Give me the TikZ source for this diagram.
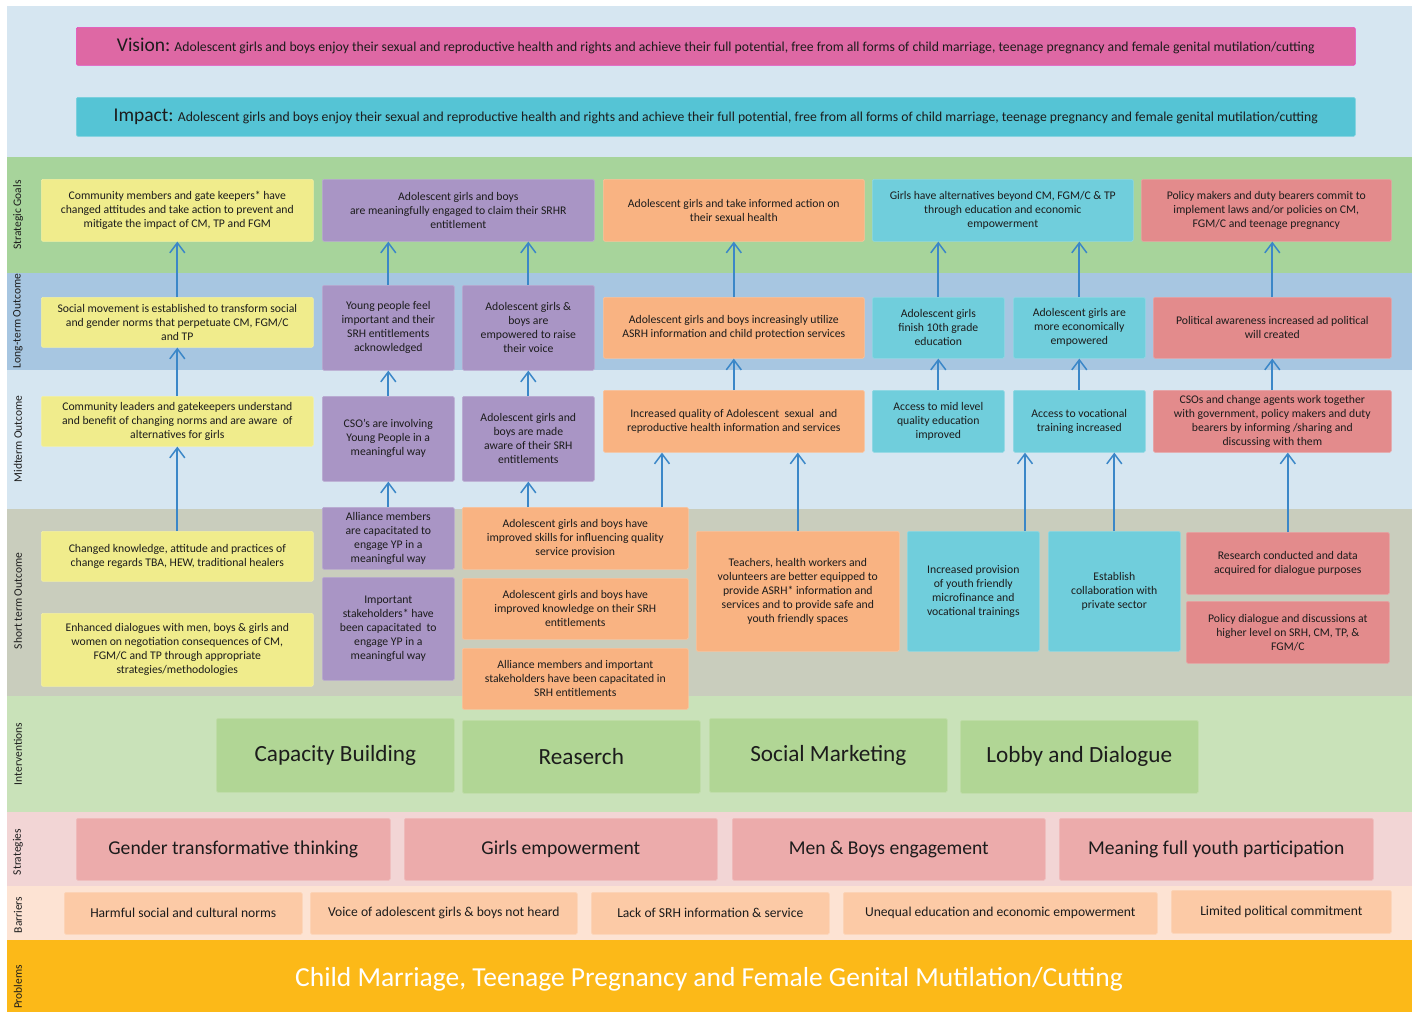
\documentclass[tikz,border=0pt]{standalone}
\usepackage{fontspec}
\setmainfont{Carlito}
\usetikzlibrary{arrows.meta}

% band colours
\definecolor{bandTop}{HTML}{D6E6F1}
\definecolor{bandSG}{HTML}{A7D49B}
\definecolor{bandLT}{HTML}{A7C6E1}
\definecolor{bandMT}{HTML}{D6E6F1}
\definecolor{bandST}{HTML}{C9CDBD}
\definecolor{bandIV}{HTML}{C9E2B9}
\definecolor{bandSTR}{HTML}{F2D5D5}
\definecolor{bandBAR}{HTML}{FDE3D3}
\definecolor{bandPRB}{HTML}{FCB918}
% box colours
\definecolor{visionC}{HTML}{DE68A4}
\definecolor{impactC}{HTML}{55C4D5}
\definecolor{yellowC}{HTML}{F0EC8C}
\definecolor{purpleC}{HTML}{A995C5}
\definecolor{orangeC}{HTML}{F9B382}
\definecolor{cyanC}{HTML}{70CEDC}
\definecolor{redC}{HTML}{E38B8C}
\definecolor{intervC}{HTML}{B1D695}
\definecolor{stratC}{HTML}{ECABAB}
\definecolor{barrC}{HTML}{FCCAA6}
\definecolor{arrowC}{HTML}{3B87C8}
\definecolor{inkC}{HTML}{1C1C1C}

% a box given by its corners: name, x1, y1, x2, y2, style, text
\newcommand\cell[7]{\node[#6, anchor=north west,
  minimum width={(#4-#2)*1pt}, minimum height={(#5-#3)*1pt}] (#1) at (#2,#3) {#7};}

\tikzset{
  cellbox/.style={rectangle, rounded corners=1.5pt, inner sep=1pt, align=center,
    text=inkC, fill=#1, draw=#1!80!white, line width=0.6pt,
    font=\fontsize{11.7}{14}\selectfont},
  bigbox/.style={cellbox=#1, font=\fontsize{23.2}{26}\selectfont},
  stratbox/.style={cellbox=#1, font=\fontsize{19.6}{23}\selectfont},
  barrbox/.style={cellbox=#1, font=\fontsize{13.6}{16}\selectfont},
  sidelabel/.style={rotate=90, font=\fontsize{11.5}{13}\selectfont, text=inkC, inner sep=0pt},
  arr/.style={draw=arrowC, line width=1.7pt, -{Straight Barb[length=10pt,width=15pt,line width=1.5pt]}}
}

\begin{document}
\begin{tikzpicture}[x=1pt,y=-1pt]
\useasboundingbox (0,0) rectangle (1415,1012);
\fill[white] (0,0) rectangle (1415,1012);

% horizontal bands
\fill[bandTop] (7,6)   rectangle (1412,157);
\fill[bandSG]  (7,157) rectangle (1412,273);
\fill[bandLT]  (7,273) rectangle (1412,370);
\fill[bandMT]  (7,370) rectangle (1412,509);
\fill[bandST]  (7,509) rectangle (1412,696);
\fill[bandIV]  (7,696) rectangle (1412,812);
\fill[bandSTR] (7,812) rectangle (1412,886);
\fill[bandBAR] (7,886) rectangle (1412,940);
\fill[bandPRB] (7,940) rectangle (1412,1012);

% band titles
\node[sidelabel] (lSG)  at (18,215) {Strategic Goals};
\node[sidelabel] (lLT)  at (18,321) {Long-term Outcome};
\node[sidelabel] (lMT)  at (18,439) {Midterm Outcome};
\node[sidelabel] (lST)  at (18,601) {Short term Outcome};
\node[sidelabel] (lIV)  at (18,754) {Interventions};
\node[sidelabel] (lSTR) at (18,852) {Strategies};
\node[sidelabel] (lBAR) at (18,915) {Barriers};
\node[sidelabel] (lPRB) at (18,987) {Problems};

% vision and impact
\cell{vision}{76}{27}{1355}{65}{cellbox=visionC, draw=visionC!70!magenta, font=\fontsize{13.7}{16}\selectfont}
  {{\fontsize{19.5}{22}\selectfont Vision:} Adolescent girls and boys enjoy their sexual and reproductive health and rights and achieve their full potential, free from all forms of child marriage, teenage pregnancy and female genital mutilation/cutting}
\cell{impact}{76}{97}{1355}{136}{cellbox=impactC, font=\fontsize{13.7}{16}\selectfont}
  {{\fontsize{19.5}{22}\selectfont Impact:} Adolescent girls and boys enjoy their sexual and reproductive health and rights and achieve their full potential, free from all forms of child marriage, teenage pregnancy and female genital mutilation/cutting}

% strategic goals
\cell{ySG}{41}{179}{313}{241}{cellbox=yellowC}{Community members and gate keepers* have\\changed attitudes and take action to prevent and\\mitigate the impact of CM, TP and FGM}
\cell{pSG}{322}{179}{594}{241}{cellbox=purpleC}{Adolescent girls and boys\\are meaningfully engaged to claim their SRHR\\entitlement}
\cell{oSG}{603}{179}{864}{241}{cellbox=orangeC}{Adolescent girls and take informed action on\\their sexual health}
\cell{cSG}{872}{179}{1133}{241}{cellbox=cyanC}{Girls have alternatives beyond CM, FGM/C \& TP\\through education and economic\\empowerment}
\cell{rSG}{1141}{179}{1391}{241}{cellbox=redC}{Policy makers and duty bearers commit to\\implement laws and/or policies on CM,\\FGM/C and teenage pregnancy}

% long-term outcomes
\cell{yLT}{41}{297}{313}{347}{cellbox=yellowC}{Social movement is established to transform social\\and gender norms that perpetuate CM, FGM/C\\and TP}
\cell{pLT1}{322}{285}{454}{370}{cellbox=purpleC}{Young people feel\\important and their\\SRH entitlements\\acknowledged}
\cell{pLT2}{462}{285}{594}{370}{cellbox=purpleC}{Adolescent girls \&\\boys are\\empowered to raise\\their voice}
\cell{oLT}{603}{297}{864}{358}{cellbox=orangeC}{Adolescent girls and boys increasingly utilize\\ASRH information and child protection services}
\cell{cLT1}{872}{297}{1004}{358}{cellbox=cyanC}{Adolescent girls\\finish 10th grade\\education}
\cell{cLT2}{1013}{297}{1145}{358}{cellbox=cyanC}{Adolescent girls are\\more economically\\empowered}
\cell{rLT}{1153}{297}{1391}{358}{cellbox=redC}{Political awareness increased ad political\\will created}

% midterm outcomes
\cell{yMT}{41}{396}{313}{446}{cellbox=yellowC}{Community leaders and gatekeepers understand\\and benefit of changing norms and are aware\ \ of\\alternatives for girls}
\cell{pMT1}{322}{396}{454}{481}{cellbox=purpleC}{CSO’s are involving\\Young People in a\\meaningful way}
\cell{pMT2}{462}{396}{594}{481}{cellbox=purpleC}{Adolescent girls and\\boys are made\\aware of their SRH\\entitlements}
\cell{oMT}{603}{390}{864}{452}{cellbox=orangeC}{Increased quality of Adolescent\ \ sexual\ \ and\\reproductive health information and services}
\cell{cMT1}{872}{390}{1004}{452}{cellbox=cyanC}{Access to mid level\\quality education\\improved}
\cell{cMT2}{1013}{390}{1145}{452}{cellbox=cyanC}{Access to vocational\\training increased}
\cell{rMT}{1153}{390}{1391}{452}{cellbox=redC}{CSOs and change agents work together\\with government, policy makers and duty\\bearers by informing /sharing and\\discussing with them}

% short term outcomes
\cell{yST1}{41}{531}{313}{581}{cellbox=yellowC}{Changed knowledge, attitude and practices of\\change regards TBA, HEW, traditional healers}
\cell{yST2}{41}{613}{313}{686}{cellbox=yellowC}{Enhanced dialogues with men, boys \& girls and\\women on negotiation consequences of CM,\\FGM/C and TP through appropriate\\strategies/methodologies}
\cell{pST1}{322}{507}{454}{569}{cellbox=purpleC}{Alliance members\\are capacitated to\\engage YP in a\\meaningful way}
\cell{pST2}{322}{577}{454}{680}{cellbox=purpleC}{Important\\stakeholders* have\\been capacitated\ \ to\\engage YP in a\\meaningful way}
\cell{oST1}{462}{507}{688}{569}{cellbox=orangeC}{Adolescent girls and boys have\\improved skills for influencing quality\\service provision}
\cell{oST2}{462}{578}{688}{639}{cellbox=orangeC}{Adolescent girls and boys have\\improved knowledge on their SRH\\entitlements}
\cell{oST3}{462}{648}{688}{709}{cellbox=orangeC}{Alliance members and important\\stakeholders have been capacitated in\\SRH entitlements}
\cell{teach}{696}{531}{899}{651}{cellbox=orangeC}{Teachers, health workers and\\volunteers are better equipped to\\provide ASRH* information and\\services and to provide safe and\\youth friendly spaces}
\cell{cST1}{907}{531}{1039}{651}{cellbox=cyanC}{Increased provision\\of youth friendly\\microfinance and\\vocational trainings}
\cell{cST2}{1048}{531}{1180}{651}{cellbox=cyanC}{Establish\\collaboration with\\private sector}
\cell{rST1}{1186}{532}{1389}{594}{cellbox=redC}{Research conducted and data\\acquired for dialogue purposes}
\cell{rST2}{1186}{601}{1389}{663}{cellbox=redC}{Policy dialogue and discussions at\\higher level on SRH, CM, TP, \&\\FGM/C}

% interventions
\cell{iv1}{216}{718}{454}{792}{bigbox=intervC}{Capacity Building}
\cell{iv2}{462}{720}{700}{793}{bigbox=intervC}{Reaserch}
\cell{iv3}{709}{718}{947}{792}{bigbox=intervC}{Social Marketing}
\cell{iv4}{960}{720}{1198}{793}{bigbox=intervC}{Lobby and Dialogue}

% strategies
\cell{st1}{76}{818}{390}{880}{stratbox=stratC}{Gender transformative thinking}
\cell{st2}{404}{818}{717}{880}{stratbox=stratC}{Girls empowerment}
\cell{st3}{732}{818}{1045}{880}{stratbox=stratC}{Men \& Boys engagement}
\cell{st4}{1059}{818}{1373}{880}{stratbox=stratC}{Meaning full youth participation}

% barriers
\cell{br1}{64}{892}{302}{934}{barrbox=barrC}{Harmful social and cultural norms}
\cell{br2}{310}{892}{577}{934}{barrbox=barrC}{Voice of adolescent girls \& boys not heard}
\cell{br3}{591}{892}{829}{934}{barrbox=barrC}{Lack of SRH information \& service}
\cell{br4}{843}{892}{1157}{934}{barrbox=barrC}{Unequal education and economic empowerment}
\cell{br5}{1171}{890}{1391}{933}{barrbox=barrC}{Limited political commitment}

% problem statement
\node[text=white, font=\fontsize{27.5}{31}\selectfont, inner sep=0pt] (prob) at (709,979)
  {Child Marriage, Teenage Pregnancy and Female Genital Mutilation/Cutting};

% result chain
\draw[arr] (yLT.north)  -- (yLT.north |- ySG.south);
\draw[arr] (yMT.north)  -- (yMT.north |- yLT.south);
\draw[arr] (yST1.north) -- (yST1.north |- yMT.south);

\draw[arr] (pLT1.north) -- (pLT1.north |- pSG.south);
\draw[arr] (pLT2.north) -- (pLT2.north |- pSG.south);
\draw[arr] (pMT1.north) -- (pLT1.south);
\draw[arr] (pMT2.north) -- (pLT2.south);
\draw[arr] (pST1.north) -- (pMT1.south);
\draw[arr] (pMT2.south |- oST1.north) -- (pMT2.south);

\draw[arr] (oLT.north) -- (oSG.south);
\draw[arr] (oMT.north) -- (oLT.south);
\draw[arr] ([xshift=200pt]oST1.north west) -- ([xshift=200pt]oST1.north west |- oMT.south);
\draw[arr] (teach.north) -- (teach.north |- oMT.south);

\draw[arr] (cLT1.north) -- (cLT1.north |- cSG.south);
\draw[arr] (cLT2.north) -- (cLT2.north |- cSG.south);
\draw[arr] (cMT1.north) -- (cLT1.south);
\draw[arr] (cMT2.north) -- (cLT2.south);
\draw[arr] ([xshift=118pt]cST1.north west) -- ([xshift=118pt]cST1.north west |- cMT2.south);
\draw[arr] (cST2.north) -- (cST2.north |- cMT2.south);

\draw[arr] (rLT.north) -- (rLT.north |- rSG.south);
\draw[arr] (rMT.north) -- (rLT.south);
\draw[arr] (rST1.north) -- (rST1.north |- rMT.south);
\end{tikzpicture}
\end{document}
